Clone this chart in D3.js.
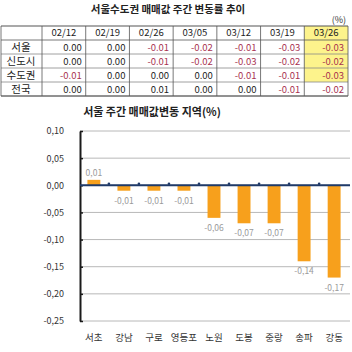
<!DOCTYPE html>
<html>
<head>
<meta charset="utf-8">
<script src="https://cdn.jsdelivr.net/npm/d3@7"></script>
<style>
  body { margin: 0; background: #fff; }
  svg text { font-family: "Noto Sans CJK KR", "Noto Sans", sans-serif; }
</style>
</head>
<body>
<svg id="chart" width="352" height="352"></svg>
<script>
// table data
const dates = ["02/12", "02/19", "02/26", "03/05", "03/12", "03/19", "03/26"];
const regions = ["서울", "신도시", "수도권", "전국"];
const seoul = [0.00, 0.00, -0.01, -0.02, -0.01, -0.03, -0.03];
const newTowns = [0.00, 0.00, -0.01, -0.02, -0.03, -0.02, -0.02];
const capitalArea = [-0.01, 0.00, 0.00, 0.00, -0.01, -0.01, -0.03];
const nationwide = [0.00, 0.00, 0.01, 0.00, 0.00, -0.01, -0.02];

// bar chart data
const districts = ["서초", "강남", "구로", "영등포", "노원", "도봉", "중랑", "송파", "강동"];
const districtChange = [0.01, -0.01, -0.01, -0.01, -0.06, -0.07, -0.07, -0.14, -0.17];
const yTicks = [0.10, 0.05, 0.00, -0.05, -0.10, -0.15, -0.20, -0.25];

const svg = d3.select("#chart");
const rows = [seoul, newTowns, capitalArea, nationwide];

// ---- table ----
svg.append("text")
    .attr("x", 168)
    .attr("y", 13)
    .attr("text-anchor", "middle")
    .attr("font-size", "10.5px")
    .attr("font-weight", "bold")
    .attr("fill", "#222")
    .text("서울수도권 매매값 주간 변동률 추이");

svg.append("text")
    .attr("x", 346)
    .attr("y", 23)
    .attr("text-anchor", "end")
    .attr("font-size", "9px")
    .attr("fill", "#333")
    .text("(%)");

const colX = d3.scaleBand().domain(dates).range([42, 348]);
const rowY = d3.scaleBand().domain(regions).range([40, 96]);
const headTop = 26;

// yellow highlight on last column
const last = dates[dates.length - 1];
svg.append("rect")
    .attr("x", colX(last))
    .attr("y", headTop)
    .attr("width", colX.bandwidth())
    .attr("height", rowY(regions[3]) - headTop)
    .attr("fill", "#fdf38c");

// grid lines
const tbl = svg.append("g").attr("stroke", "#555").attr("stroke-width", 0.8);
regions.forEach(r => {
    tbl.append("line")
        .attr("x1", 1).attr("x2", 348)
        .attr("y1", rowY(r) + rowY.bandwidth()).attr("y2", rowY(r) + rowY.bandwidth())
        .attr("stroke", "#888");
});
tbl.append("line").attr("x1", 1).attr("x2", 348).attr("y1", headTop).attr("y2", headTop).attr("stroke-width", 1.2);
tbl.append("line").attr("x1", 1).attr("x2", 348).attr("y1", 40).attr("y2", 40);
tbl.append("line").attr("x1", 1).attr("x2", 348).attr("y1", 96).attr("y2", 96).attr("stroke-width", 1.2);
[1, ...dates.map(d => colX(d)), 348].forEach(x => {
    tbl.append("line").attr("x1", x).attr("x2", x).attr("y1", headTop).attr("y2", 96);
});

svg.selectAll(".head")
    .data(dates)
    .join("text")
    .attr("x", d => colX(d) + colX.bandwidth() / 2)
    .attr("y", headTop + 10)
    .attr("text-anchor", "middle")
    .attr("font-size", "9.5px")
    .attr("fill", "#222")
    .text(d => d);

svg.selectAll(".rowlabel")
    .data(regions)
    .join("text")
    .attr("x", 21)
    .attr("y", d => rowY(d) + rowY.bandwidth() / 2 + 4)
    .attr("text-anchor", "middle")
    .attr("font-size", "10.5px")
    .attr("fill", "#222")
    .text(d => d);

rows.forEach((vals, i) => {
    svg.selectAll(".v" + i)
        .data(vals)
        .join("text")
        .attr("x", (d, j) => colX(dates[j]) + colX.bandwidth() - 4)
        .attr("y", rowY(regions[i]) + rowY.bandwidth() / 2 + 4)
        .attr("text-anchor", "end")
        .attr("font-size", "9.5px")
        .attr("fill", d => d < 0 ? "#a8324f" : "#222")
        .text(d => d3.format(".2f")(d).replace("−", "-"));
});

// ---- bar chart ----
svg.append("text")
    .attr("x", 152)
    .attr("y", 116)
    .attr("text-anchor", "middle")
    .attr("font-size", "11px")
    .attr("font-weight", "bold")
    .attr("fill", "#222")
    .text("서울 주간 매매값변동 지역(%)");

const x = d3.scaleBand()
    .domain(districts)
    .range([79, 349])
    .paddingInner(0.57)
    .paddingOuter(0.28);

const y = d3.scaleLinear()
    .domain([-0.25, 0.10])
    .range([321, 131]);

const comma = v => d3.format(".2f")(v).replace(".", ",").replace("−", "-");

// gridlines
svg.append("g")
    .selectAll("line")
    .data(yTicks)
    .join("line")
    .attr("x1", 80).attr("x2", 350)
    .attr("y1", d => y(d)).attr("y2", d => y(d))
    .attr("stroke", "#b8b8b8")
    .attr("stroke-width", 1);

// y axis
const yAxis = svg.append("g")
    .attr("transform", "translate(80,0)")
    .call(d3.axisLeft(y).tickValues(yTicks).tickFormat(comma).tickSize(0).tickPadding(16));
yAxis.select(".domain").attr("stroke", "#1a1a1a").attr("stroke-width", 2);
yAxis.selectAll("text").attr("font-size", "9px").attr("fill", "#333")
    .attr("font-family", "'Noto Sans', sans-serif");
yAxis.selectAll(".tick")
    .append("line").attr("x1", 0).attr("x2", 3).attr("stroke", "#1a1a1a").attr("stroke-width", 1.5);

// bars
svg.selectAll(".bar")
    .data(districtChange)
    .join("rect")
    .attr("x", (d, i) => x(districts[i]))
    .attr("y", d => y(Math.max(0, d)))
    .attr("width", x.bandwidth())
    .attr("height", d => Math.abs(y(d) - y(0)))
    .attr("fill", "#f7a01c");

// zero line with small boundary ticks
const bounds = districts.slice(1).map(d => x(d) - x.step() * x.paddingInner() / 2);
svg.append("line")
    .attr("x1", 80).attr("x2", 350)
    .attr("y1", y(0)).attr("y2", y(0))
    .attr("stroke", "#1f3a68")
    .attr("stroke-width", 2);
svg.selectAll(".btick")
    .data(bounds)
    .join("circle")
    .attr("cx", d => d)
    .attr("cy", y(0) - 1.5)
    .attr("r", 1.3)
    .attr("fill", "#1f3a68");

// value labels
svg.selectAll(".val")
    .data(districtChange)
    .join("text")
    .attr("x", (d, i) => x(districts[i]) + x.bandwidth() / 2)
    .attr("y", d => d > 0 ? y(d) - 4 : y(d) + 13)
    .attr("text-anchor", "middle")
    .attr("font-size", "8.5px")
    .attr("fill", "#9a9a9a")
    .attr("font-family", "'Noto Sans', sans-serif")
    .text(d => comma(d));

// x labels
svg.selectAll(".xl")
    .data(districts)
    .join("text")
    .attr("x", d => x(d) + x.bandwidth() / 2)
    .attr("y", 341)
    .attr("text-anchor", "middle")
    .attr("font-size", "9.5px")
    .attr("fill", "#333")
    .text(d => d);
</script>
</body>
</html>
